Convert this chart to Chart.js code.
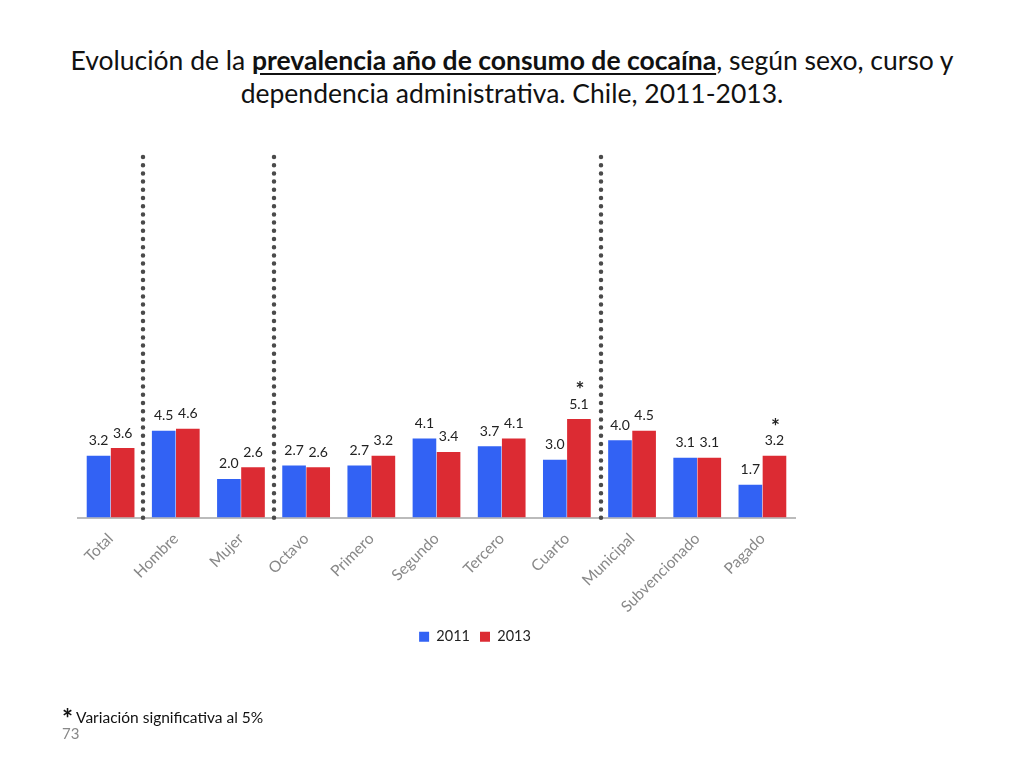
<!DOCTYPE html>
<html>
<head>
<meta charset="utf-8">
<script src="https://cdn.jsdelivr.net/npm/chart.js@4/dist/chart.umd.min.js"></script>
<style>
  body { margin: 0; background: #fff; font-family: Lato, "Open Sans", sans-serif; }
  #wrap { position: relative; width: 1024px; height: 768px; overflow: hidden; }
  #c { position: absolute; left: 0; top: 0; }
  .title { position: absolute; left: 0; top: 44px; width: 1024px; text-align: center;
           font-size: 26.5px; line-height: 33px; color: #111; }
  .title b { text-decoration: underline; text-underline-offset: 3px; }
  .note { position: absolute; left: 62px; top: 697px; font-size: 15.5px; color: #111; }
  .note span { font-size: 26px; font-weight: bold; position: relative; top: 5px; margin-right: 3px; }
  .page { position: absolute; left: 62px; top: 724px; font-size: 15px; color: #888; }
</style>
</head>
<body>
<div id="wrap">
  <div class="title">Evolución de la <b>prevalencia año de consumo de cocaína</b>, según sexo, curso y<br>dependencia administrativa. Chile, 2011-2013.</div>
  <canvas id="c" width="1024" height="768"></canvas>
  <div class="note"><span>*</span>Variación significativa al 5%</div>
  <div class="page">73</div>
</div>
<script>
// ====== datos ======
const categorias = ['Total', 'Hombre', 'Mujer', 'Octavo', 'Primero', 'Segundo', 'Tercero', 'Cuarto', 'Municipal', 'Subvencionado', 'Pagado'];
const valores2011 = [3.2, 4.5, 2.0, 2.7, 2.7, 4.1, 3.7, 3.0, 4.0, 3.1, 1.7];
const valores2013 = [3.6, 4.6, 2.6, 2.6, 3.2, 3.4, 4.1, 5.1, 4.5, 3.1, 3.2];
const signif2013 = [false, false, false, false, false, false, false, true, false, false, true];
const separadores = [0, 2, 7]; // línea punteada después de estos índices

// ====== etiquetas de valores y asteriscos ======
const etiquetasPlugin = {
  id: 'etiquetas',
  afterDatasetsDraw(chart) {
    const ctx = chart.ctx;
    ctx.save();
    ctx.textAlign = 'center';
    ctx.textBaseline = 'bottom';
    chart.data.datasets.forEach((ds, di) => {
      chart.getDatasetMeta(di).data.forEach((bar, i) => {
        ctx.font = '14px Lato, sans-serif';
        ctx.fillStyle = '#222';
        ctx.fillText(ds.data[i].toFixed(1), bar.x, bar.y - 8);
        if (di === 1 && signif2013[i]) {
          ctx.font = 'bold 21px Lato, sans-serif';
          ctx.fillText('*', bar.x + 1, bar.y - 18);
        }
      });
    });
    ctx.restore();
  }
};

// ====== líneas punteadas ======
const separadorPlugin = {
  id: 'separador',
  afterDraw(chart) {
    const ctx = chart.ctx;
    const x = chart.scales.x;
    ctx.save();
    ctx.strokeStyle = '#4a4a4a';
    ctx.lineWidth = 4.5;
    ctx.lineCap = 'round';
    ctx.setLineDash([0, 8.2]);
    separadores.forEach(i => {
      const px = Math.round((x.getPixelForValue(i) + x.getPixelForValue(i + 1)) / 2) + (i === 7 ? 2 : 0);
      ctx.beginPath();
      ctx.moveTo(px, 157);
      ctx.lineTo(px, chart.chartArea.bottom + 2);
      ctx.stroke();
    });
    ctx.restore();
  }
};

new Chart(document.getElementById('c').getContext('2d'), {
  type: 'bar',
  data: {
    labels: categorias,
    datasets: [
      { label: '2011', data: valores2011, backgroundColor: '#3262f4',
        categoryPercentage: 0.74, barPercentage: 0.98 },
      { label: '2013', data: valores2013, backgroundColor: '#dc2b33',
        categoryPercentage: 0.74, barPercentage: 0.98 }
    ]
  },
  options: {
    responsive: false,
    animation: false,
    layout: { padding: { left: 78, right: 152, top: 151, bottom: 114 } },
    plugins: {
      tooltip: { enabled: false },
      legend: {
        position: 'bottom',
        labels: { boxWidth: 10, boxHeight: 10, padding: 10, color: '#222',
                  font: { family: 'Lato', size: 14.5 } }
      }
    },
    scales: {
      x: {
        grid: { display: false },
        border: { color: '#bbb', width: 2 },
        ticks: { color: '#888', maxRotation: 45, minRotation: 45, padding: 4,
                 font: { family: 'Lato', size: 15.5 } },
        afterFit(s) { s.height = 102; }
      },
      y: { display: false, min: 0, max: 19 },
      y2: {
        position: 'right', display: true,
        grid: { display: false }, border: { display: false },
        ticks: { display: false },
        afterFit(s) { s.width = 77; }
      }
    }
  },
  plugins: [etiquetasPlugin, separadorPlugin]
});
</script>
</body>
</html>
